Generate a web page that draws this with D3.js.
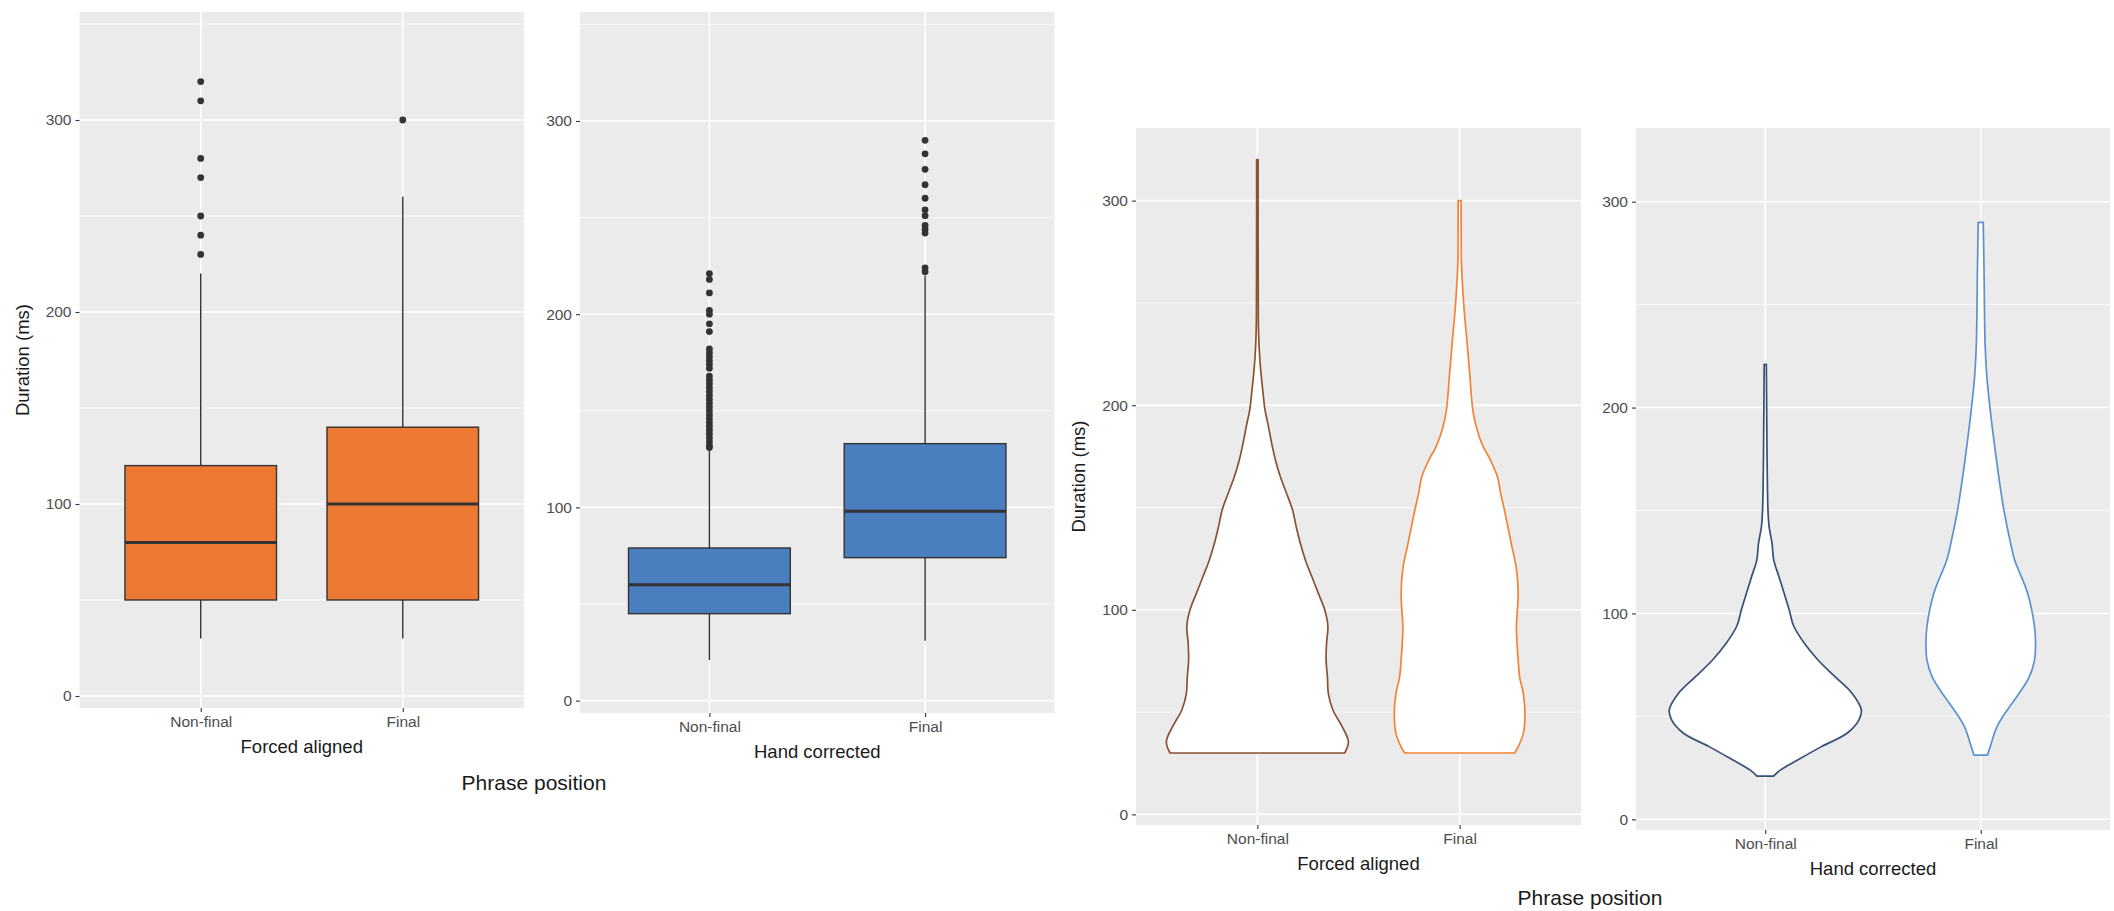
<!DOCTYPE html>
<html><head><meta charset="utf-8">
<script src="https://cdn.jsdelivr.net/npm/d3@7"></script>
<style>
body{margin:0;background:#fff}
svg{display:block}
text{font-family:"Liberation Sans", Arial, Helvetica, sans-serif}
</style>
</head><body>
<svg id="chart" width="2114" height="911"></svg>
<script>
// ---------------- data ----------------
const categories = ["Non-final", "Final"];
const yTicks = [0, 100, 200, 300];
const yMinorTicks = [50, 150, 250, 350];

// Forced aligned boxplot
const forcedLower  = [30, 30];
const forcedQ1     = [50, 50];
const forcedMedian = [80, 100];
const forcedQ3     = [120, 140];
const forcedUpper  = [220, 260];
const forcedOutliers = [
  [320, 310, 280, 270, 250, 240, 230],
  [300]
];

// Hand corrected boxplot
const handLower  = [21, 31];
const handQ1     = [45, 74];
const handMedian = [60, 98];
const handQ3     = [79, 133];
const handUpper  = [130, 220];
const handOutliers = [
  [221, 218, 211, 202, 200, 195, 191, 182, 180, 178, 176, 174, 172, 168, 166, 164, 162,
   160, 158, 156, 154, 152, 150, 148, 146, 144, 142, 140, 138, 136, 134, 132, 131],
  [290, 283, 275, 267, 260, 254, 251, 246, 244, 242, 224, 222]
];

// Violin profiles: [duration (ms), scaled density (1 = widest violin)]
const violinForcedNonFinal = [
  [30, 0.96], [35.5, 1.0], [43, 0.93], [51, 0.83], [59, 0.78], [67, 0.77], [75.5, 0.755],
  [83.6, 0.76], [92, 0.775], [100, 0.74], [108, 0.67], [116, 0.6], [124, 0.53], [132, 0.475],
  [140, 0.43], [149, 0.385], [157, 0.32], [165, 0.253], [173, 0.2], [181, 0.159], [190, 0.12],
  [198, 0.083], [207, 0.06], [217, 0.037], [228, 0.02], [238, 0.012], [250, 0.01], [270, 0.009],
  [300, 0.008], [320, 0.008]
];
const violinForcedFinal = [
  [30, 0.604], [33, 0.643], [39.6, 0.70], [49.4, 0.718], [59, 0.70], [67, 0.66], [75.5, 0.643],
  [84, 0.63], [92, 0.624], [100, 0.635], [108, 0.643], [120, 0.624], [132.5, 0.567], [149, 0.491],
  [157, 0.45], [165, 0.416], [173, 0.34], [181, 0.246], [190, 0.18], [198, 0.144], [214, 0.113],
  [230, 0.083], [247, 0.049], [260, 0.03], [271, 0.019], [285, 0.017], [300, 0.016]
];
const violinHandNonFinal = [
  [21, 0.085], [24, 0.158], [28.8, 0.334], [35.3, 0.579], [41.8, 0.843], [48.2, 0.965],
  [53.1, 0.99], [61.2, 0.895], [69.3, 0.719], [77.4, 0.544], [85.5, 0.403], [94, 0.292],
  [102, 0.245], [110, 0.193], [118, 0.14], [126, 0.087], [134, 0.07], [142, 0.04], [150, 0.028],
  [170, 0.02], [191, 0.016], [221, 0.011]
];
const violinHandFinal = [
  [31.2, 0.07], [35.3, 0.098], [45, 0.168], [53.1, 0.274], [61.2, 0.397], [69.3, 0.502],
  [77.4, 0.555], [85.5, 0.565], [93.6, 0.555], [109.8, 0.484], [126, 0.35], [134.1, 0.308],
  [150.2, 0.239], [166.4, 0.186], [182.6, 0.14], [198.8, 0.098], [215, 0.063], [231.2, 0.045],
  [263.6, 0.035], [290, 0.026]
];

// ---------------- styling ----------------
const PANEL_BG = "#EBEBEB";
const TICK_COL = "#4D4D4D";
const BOX_FILL = ["#ED7932", "#4A7EBF"];
const VIOLIN_STROKE = {
  forced: ["#8A5230", "#F28435"],
  hand: ["#36507A", "#5B92CF"]
};
const TICK_FONT = 15.5, TITLE_FONT = 18.5, GROUP_FONT = 21;

const svg = d3.select("#chart");

function panel(cfg) {
  const g = svg.append("g");
  const x = d3.scalePoint().domain(categories).range([cfg.left, cfg.right]).padding(0.6);
  const y = d3.scaleLinear().domain(cfg.domain).range([cfg.bottom, cfg.top]);
  const step = x.step();

  g.append("rect").attr("x", cfg.left).attr("y", cfg.top)
    .attr("width", cfg.right - cfg.left).attr("height", cfg.bottom - cfg.top)
    .attr("fill", PANEL_BG);

  const minor = yMinorTicks.filter(v => v > cfg.domain[0] && v < cfg.domain[1]);
  g.selectAll(".minor").data(minor).join("line")
    .attr("x1", cfg.left).attr("x2", cfg.right)
    .attr("y1", d => y(d)).attr("y2", d => y(d))
    .attr("stroke", "#fff").attr("stroke-width", 0.8);
  g.selectAll(".major").data(yTicks).join("line")
    .attr("x1", cfg.left).attr("x2", cfg.right)
    .attr("y1", d => y(d)).attr("y2", d => y(d))
    .attr("stroke", "#fff").attr("stroke-width", 1.6);
  g.selectAll(".vmajor").data(categories).join("line")
    .attr("x1", d => x(d)).attr("x2", d => x(d))
    .attr("y1", cfg.top).attr("y2", cfg.bottom)
    .attr("stroke", "#fff").attr("stroke-width", 1.6);

  // axes
  const ya = g.append("g").attr("transform", `translate(${cfg.left},0)`)
    .call(d3.axisLeft(y).tickValues(yTicks).tickSize(4).tickPadding(4));
  const xa = g.append("g").attr("transform", `translate(0,${cfg.bottom})`)
    .call(d3.axisBottom(x).tickSize(4).tickPadding(4));
  [ya, xa].forEach(a => {
    a.select(".domain").remove();
    a.selectAll(".tick line").attr("stroke", "#333").attr("stroke-width", 1.1);
    a.selectAll(".tick text").attr("fill", TICK_COL).attr("font-size", TICK_FONT)
      .attr("font-family", '"Liberation Sans", Arial, sans-serif');
  });

  g.append("text").attr("x", (cfg.left + cfg.right) / 2).attr("y", cfg.bottom + 45)
    .attr("text-anchor", "middle").attr("font-size", TITLE_FONT).attr("fill", "#1a1a1a")
    .text(cfg.xTitle);
  if (cfg.yTitle) {
    g.append("text")
      .attr("transform", `translate(${cfg.yTitleX},${(cfg.top + cfg.bottom) / 2}) rotate(-90)`)
      .attr("text-anchor", "middle").attr("font-size", TITLE_FONT).attr("fill", "#1a1a1a")
      .text(cfg.yTitle);
  }
  return {g, x, y, step};
}

function drawBoxes(p, lower, q1, med, q3, upper, outliers, fill) {
  const {g, x, y, step} = p;
  const w = step * 0.75;
  categories.forEach((c, i) => {
    const cx = x(c);
    g.append("line").attr("x1", cx).attr("x2", cx)
      .attr("y1", y(q3[i])).attr("y2", y(upper[i]))
      .attr("stroke", "#333").attr("stroke-width", 1.4);
    g.append("line").attr("x1", cx).attr("x2", cx)
      .attr("y1", y(q1[i])).attr("y2", y(lower[i]))
      .attr("stroke", "#333").attr("stroke-width", 1.4);
    g.append("rect").attr("x", cx - w / 2).attr("y", y(q3[i]))
      .attr("width", w).attr("height", y(q1[i]) - y(q3[i]))
      .attr("fill", fill).attr("stroke", "#333").attr("stroke-width", 1.4);
    g.append("line").attr("x1", cx - w / 2).attr("x2", cx + w / 2)
      .attr("y1", y(med[i])).attr("y2", y(med[i]))
      .attr("stroke", "#333").attr("stroke-width", 3);
    g.selectAll(null).data(outliers[i]).join("circle")
      .attr("cx", cx).attr("cy", d => y(d)).attr("r", 3.4).attr("fill", "#333");
  });
}

function drawViolins(p, profiles, strokes) {
  const {g, x, y, step} = p;
  const half = step * 0.45;
  profiles.forEach((prof, i) => {
    const cx = x(categories[i]);
    const area = d3.area()
      .y(d => y(d[0]))
      .x0(d => cx - d[1] * half)
      .x1(d => cx + d[1] * half)
      .curve(d3.curveCatmullRom.alpha(0.5));
    g.append("path").attr("d", area(prof))
      .attr("fill", "#fff").attr("stroke", strokes[i]).attr("stroke-width", 1.7)
      .attr("stroke-linejoin", "round");
  });
}

// ---------------- panels ----------------
const p1 = panel({left: 79.5, right: 524, top: 12, bottom: 708, domain: [-6.25, 356.25],
  xTitle: "Forced aligned", yTitle: "Duration (ms)", yTitleX: 29});
drawBoxes(p1, forcedLower, forcedQ1, forcedMedian, forcedQ3, forcedUpper, forcedOutliers, BOX_FILL[0]);

const p2 = panel({left: 580, right: 1054.5, top: 12, bottom: 713, domain: [-6.4, 356.4],
  xTitle: "Hand corrected"});
drawBoxes(p2, handLower, handQ1, handMedian, handQ3, handUpper, handOutliers, BOX_FILL[1]);

const p3 = panel({left: 1136, right: 1581, top: 128, bottom: 825, domain: [-5.2, 335.5],
  xTitle: "Forced aligned", yTitle: "Duration (ms)", yTitleX: 1085});
drawViolins(p3, [violinForcedNonFinal, violinForcedFinal], VIOLIN_STROKE.forced);

const p4 = panel({left: 1636, right: 2110, top: 128, bottom: 830, domain: [-5.2, 335.8],
  xTitle: "Hand corrected"});
drawViolins(p4, [violinHandNonFinal, violinHandFinal], VIOLIN_STROKE.hand);

// shared x titles
svg.append("text").attr("x", 534).attr("y", 790).attr("text-anchor", "middle")
  .attr("font-size", GROUP_FONT).attr("fill", "#1a1a1a").text("Phrase position");
svg.append("text").attr("x", 1590).attr("y", 905).attr("text-anchor", "middle")
  .attr("font-size", GROUP_FONT).attr("fill", "#1a1a1a").text("Phrase position");
</script>
</body></html>
